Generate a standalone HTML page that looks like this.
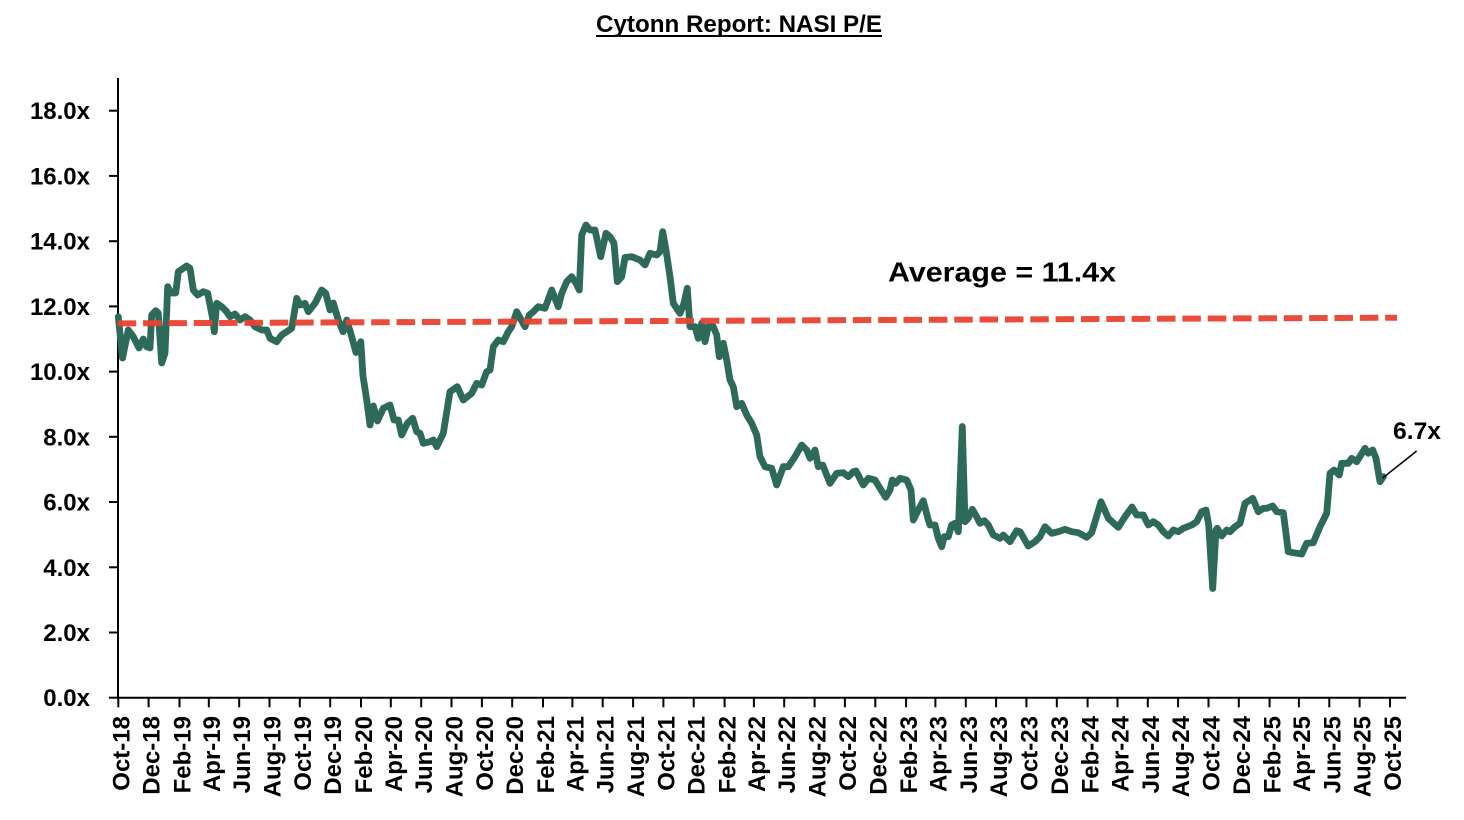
<!DOCTYPE html>
<html>
<head>
<meta charset="utf-8">
<style>
  html,body{margin:0;padding:0;background:#fff;}
  svg{display:block;}
  text{font-family:"Liberation Sans",Arial,sans-serif;font-weight:bold;fill:#000;}
</style>
</head>
<body>
<svg width="1464" height="820" viewBox="0 0 1464 820" xmlns="http://www.w3.org/2000/svg">
  <rect x="0" y="0" width="1464" height="820" fill="#fff"/>

  <!-- Title -->
  <text x="739" y="32" font-size="24" text-anchor="middle" textLength="286" lengthAdjust="spacingAndGlyphs">Cytonn Report: NASI P/E</text>
  <line x1="596" y1="36" x2="882" y2="36" stroke="#000" stroke-width="2"/>

  <!-- Y axis -->
  <line x1="118" y1="78" x2="118" y2="698.5" stroke="#000" stroke-width="2"/>
  <g stroke="#000" stroke-width="2">
    <line x1="109" y1="697.7" x2="118" y2="697.7"/>
    <line x1="109" y1="632.5" x2="118" y2="632.5"/>
    <line x1="109" y1="567.3" x2="118" y2="567.3"/>
    <line x1="109" y1="502.0" x2="118" y2="502.0"/>
    <line x1="109" y1="436.8" x2="118" y2="436.8"/>
    <line x1="109" y1="371.6" x2="118" y2="371.6"/>
    <line x1="109" y1="306.4" x2="118" y2="306.4"/>
    <line x1="109" y1="241.2" x2="118" y2="241.2"/>
    <line x1="109" y1="175.9" x2="118" y2="175.9"/>
    <line x1="109" y1="110.7" x2="118" y2="110.7"/>
  </g>
  <g font-size="24" text-anchor="end">
    <text x="90" y="706.2">0.0x</text>
    <text x="90" y="641.0">2.0x</text>
    <text x="90" y="575.8">4.0x</text>
    <text x="90" y="510.5">6.0x</text>
    <text x="90" y="445.3">8.0x</text>
    <text x="90" y="380.1">10.0x</text>
    <text x="90" y="314.9">12.0x</text>
    <text x="90" y="249.7">14.0x</text>
    <text x="90" y="184.4">16.0x</text>
    <text x="90" y="119.2">18.0x</text>
  </g>

  <!-- X axis -->
  <line x1="117" y1="697.7" x2="1406" y2="697.7" stroke="#000" stroke-width="2"/>
  <g stroke="#000" stroke-width="2">
    <line x1="118.3" y1="697.7" x2="118.3" y2="707.3"/>
    <line x1="148.6" y1="697.7" x2="148.6" y2="707.3"/>
    <line x1="179.5" y1="697.7" x2="179.5" y2="707.3"/>
    <line x1="208.8" y1="697.7" x2="208.8" y2="707.3"/>
    <line x1="239.2" y1="697.7" x2="239.2" y2="707.3"/>
    <line x1="269.5" y1="697.7" x2="269.5" y2="707.3"/>
    <line x1="299.8" y1="697.7" x2="299.8" y2="707.3"/>
    <line x1="330.2" y1="697.7" x2="330.2" y2="707.3"/>
    <line x1="361.0" y1="697.7" x2="361.0" y2="707.3"/>
    <line x1="390.8" y1="697.7" x2="390.8" y2="707.3"/>
    <line x1="421.2" y1="697.7" x2="421.2" y2="707.3"/>
    <line x1="451.5" y1="697.7" x2="451.5" y2="707.3"/>
    <line x1="481.9" y1="697.7" x2="481.9" y2="707.3"/>
    <line x1="512.2" y1="697.7" x2="512.2" y2="707.3"/>
    <line x1="543.0" y1="697.7" x2="543.0" y2="707.3"/>
    <line x1="572.4" y1="697.7" x2="572.4" y2="707.3"/>
    <line x1="602.7" y1="697.7" x2="602.7" y2="707.3"/>
    <line x1="633.1" y1="697.7" x2="633.1" y2="707.3"/>
    <line x1="663.4" y1="697.7" x2="663.4" y2="707.3"/>
    <line x1="693.7" y1="697.7" x2="693.7" y2="707.3"/>
    <line x1="724.6" y1="697.7" x2="724.6" y2="707.3"/>
    <line x1="753.9" y1="697.7" x2="753.9" y2="707.3"/>
    <line x1="784.2" y1="697.7" x2="784.2" y2="707.3"/>
    <line x1="814.6" y1="697.7" x2="814.6" y2="707.3"/>
    <line x1="844.9" y1="697.7" x2="844.9" y2="707.3"/>
    <line x1="875.3" y1="697.7" x2="875.3" y2="707.3"/>
    <line x1="906.1" y1="697.7" x2="906.1" y2="707.3"/>
    <line x1="935.4" y1="697.7" x2="935.4" y2="707.3"/>
    <line x1="965.8" y1="697.7" x2="965.8" y2="707.3"/>
    <line x1="996.1" y1="697.7" x2="996.1" y2="707.3"/>
    <line x1="1026.4" y1="697.7" x2="1026.4" y2="707.3"/>
    <line x1="1056.8" y1="697.7" x2="1056.8" y2="707.3"/>
    <line x1="1087.6" y1="697.7" x2="1087.6" y2="707.3"/>
    <line x1="1117.5" y1="697.7" x2="1117.5" y2="707.3"/>
    <line x1="1147.8" y1="697.7" x2="1147.8" y2="707.3"/>
    <line x1="1178.1" y1="697.7" x2="1178.1" y2="707.3"/>
    <line x1="1208.5" y1="697.7" x2="1208.5" y2="707.3"/>
    <line x1="1238.8" y1="697.7" x2="1238.8" y2="707.3"/>
    <line x1="1269.6" y1="697.7" x2="1269.6" y2="707.3"/>
    <line x1="1298.9" y1="697.7" x2="1298.9" y2="707.3"/>
    <line x1="1329.3" y1="697.7" x2="1329.3" y2="707.3"/>
    <line x1="1359.6" y1="697.7" x2="1359.6" y2="707.3"/>
    <line x1="1390.0" y1="697.7" x2="1390.0" y2="707.3"/>
  </g>
  <g font-size="24" text-anchor="end">
    <text transform="translate(129.3,716) rotate(-90)">Oct-18</text>
    <text transform="translate(159.6,716) rotate(-90)">Dec-18</text>
    <text transform="translate(190.5,716) rotate(-90)">Feb-19</text>
    <text transform="translate(219.8,716) rotate(-90)">Apr-19</text>
    <text transform="translate(250.2,716) rotate(-90)">Jun-19</text>
    <text transform="translate(280.5,716) rotate(-90)">Aug-19</text>
    <text transform="translate(310.8,716) rotate(-90)">Oct-19</text>
    <text transform="translate(341.2,716) rotate(-90)">Dec-19</text>
    <text transform="translate(372.0,716) rotate(-90)">Feb-20</text>
    <text transform="translate(401.8,716) rotate(-90)">Apr-20</text>
    <text transform="translate(432.2,716) rotate(-90)">Jun-20</text>
    <text transform="translate(462.5,716) rotate(-90)">Aug-20</text>
    <text transform="translate(492.9,716) rotate(-90)">Oct-20</text>
    <text transform="translate(523.2,716) rotate(-90)">Dec-20</text>
    <text transform="translate(554.0,716) rotate(-90)">Feb-21</text>
    <text transform="translate(583.4,716) rotate(-90)">Apr-21</text>
    <text transform="translate(613.7,716) rotate(-90)">Jun-21</text>
    <text transform="translate(644.1,716) rotate(-90)">Aug-21</text>
    <text transform="translate(674.4,716) rotate(-90)">Oct-21</text>
    <text transform="translate(704.7,716) rotate(-90)">Dec-21</text>
    <text transform="translate(735.6,716) rotate(-90)">Feb-22</text>
    <text transform="translate(764.9,716) rotate(-90)">Apr-22</text>
    <text transform="translate(795.2,716) rotate(-90)">Jun-22</text>
    <text transform="translate(825.6,716) rotate(-90)">Aug-22</text>
    <text transform="translate(855.9,716) rotate(-90)">Oct-22</text>
    <text transform="translate(886.3,716) rotate(-90)">Dec-22</text>
    <text transform="translate(917.1,716) rotate(-90)">Feb-23</text>
    <text transform="translate(946.4,716) rotate(-90)">Apr-23</text>
    <text transform="translate(976.8,716) rotate(-90)">Jun-23</text>
    <text transform="translate(1007.1,716) rotate(-90)">Aug-23</text>
    <text transform="translate(1037.4,716) rotate(-90)">Oct-23</text>
    <text transform="translate(1067.8,716) rotate(-90)">Dec-23</text>
    <text transform="translate(1098.6,716) rotate(-90)">Feb-24</text>
    <text transform="translate(1128.5,716) rotate(-90)">Apr-24</text>
    <text transform="translate(1158.8,716) rotate(-90)">Jun-24</text>
    <text transform="translate(1189.1,716) rotate(-90)">Aug-24</text>
    <text transform="translate(1219.5,716) rotate(-90)">Oct-24</text>
    <text transform="translate(1249.8,716) rotate(-90)">Dec-24</text>
    <text transform="translate(1280.6,716) rotate(-90)">Feb-25</text>
    <text transform="translate(1309.9,716) rotate(-90)">Apr-25</text>
    <text transform="translate(1340.3,716) rotate(-90)">Jun-25</text>
    <text transform="translate(1370.6,716) rotate(-90)">Aug-25</text>
    <text transform="translate(1401.0,716) rotate(-90)">Oct-25</text>
  </g>

  <!-- Series -->
  <polyline fill="none" stroke="#2D6A5A" stroke-width="6.8" stroke-linejoin="round" stroke-linecap="round" points="
118.3,316.7 122.5,358 128.3,330 133.3,336.7 139,348 143.3,339 146.7,346.7 150,348 151.7,315 155.7,310.7 158.3,313
161.7,363 165,353 167.7,286.7 171,293 175.7,293 178.3,271.7 183.3,268.3 186.7,266 190,268.3 193.3,290 197.7,295
203.3,291.7 207.7,293.3 212.3,316.7 214.3,331.7 216.7,303.3 221.7,306.7 226.7,311.7 230,316.7 235,314 240,320
245,316.7 250,320 255,326.7 261.7,330 266.7,330 270,338.3 276.7,341.7 281.7,335 286.7,331.7 291.7,328.3
296.7,298.3 300,305 305,303.3 308.3,311.7 315,303.3 321.7,290 325.7,293.3 330,310 333.3,303 338.3,320 343,331.7
346.7,320 351.7,336.7 356,352.5 360.8,341.7 363,376 366.7,400 370,425 373.3,406 377.5,421 383.3,408.3 390,405
394,420 398.3,420 401.7,435 407.3,423.3 412.7,418.3 416.7,431.7 420,433.3 423.3,443.3 430,441.7 433.3,440
436.7,446.7 443.3,433.3 450,391.7 455,388.3 457.3,386.7 463.3,400 471.7,393.3 476.7,383.3 481.7,385 486.7,371.7
490,370 493.3,346.7 498.3,340 503.3,341.7 508.3,331.7 511.7,326.7 516.7,311.7 525,326.7 529.3,315 533.3,311.7
538.3,306.7 545,308.3 551.7,290 558.3,306.7 561.7,293.3 566.7,281.7 571.7,276.7 576,283.3 579.3,290 581.7,235
586,225 590,230 595,230 600.7,256.7 606,233.3 610,236.7 614,243.3 617.3,281.7 621.7,276.7 625,257.5 631.7,256.7
640,260 645,265 650,253.3 656.7,255 660,251.7 662.7,231.7 666,250 670,276.7 673.3,303.3 680,313.3 684,303.3
687.3,288.3 690,326.7 695,326.7 698.3,338.3 701.7,323.3 705,341.7 708.3,326.7 713.3,326.7 716.7,335 719.3,356.7
723.3,343.3 726.7,360 730,380 733.3,386.7 736.7,406.7 741.7,403.3 746.7,415 751.7,423.3 756.7,435 760,456.7
765,466.7 771.7,468.3 776.7,485 783.3,466.7 788.3,466.7 795,456.7 801.7,445 806.7,450 810,458.3 815,450
818.3,466.7 822.7,465 830,483.3 836.7,473.3 843.3,472.7 848.3,476.7 853.3,471.7 856,471 863.3,485 868.3,478.3
875,480 880,488.3 885.7,497.3 890,490 892.3,480 895.7,483.3 900,478.3 906.7,480 911,490 913.3,520 918.3,510
923.3,500.7 928.3,520 930,525 935,525 938.3,538.3 941.7,546.7 944.3,536.7 948.3,536.7 951.7,525 955,523.3
958.3,531.7 962.3,426.5 965,521.7 968.3,518.3 972.3,509.3 975.7,515 980,523.3 984.3,520.7 988.3,525 993.3,535
1000,538.3 1003.3,535 1010,541.7 1016.7,530.7 1020,531.7 1028.3,546 1035,541.7 1040,536.7 1045,526.7
1051.7,533.3 1058.3,531.7 1065,529.3 1071.7,531.7 1078.3,532.7 1086.7,537.3 1091.7,532.7 1101,501.7 1108.3,518.3
1118.3,527.3 1125,516.7 1132,507 1136.7,515 1143.3,515 1148.3,525 1153.3,521.7 1158.3,525 1163.3,531.7
1168.3,536 1173.3,530 1178.3,531.7 1183.3,528.3 1191.7,525 1196.7,521.7 1201.7,511.7 1206,510 1208.7,525
1212.7,588.5 1216,530 1217.3,528.3 1221.7,536 1226.7,530 1230,531.7 1235,526.7 1240,523.3 1245,503.3 1252.7,498.3
1258.3,511.7 1263.3,508.3 1266.7,508.3 1272.7,506 1276.7,511.7 1283.3,512.7 1288.3,551.7 1293.3,552.7 1301.7,554
1306.7,543.3 1313.3,542.7 1320,526.7 1326.7,513.3 1330,473.3 1334,470 1339.3,475 1341.7,463.3 1348.3,463.3
1351.7,458.3 1356.7,461.7 1365,448.3 1368.3,453.3 1372.7,450 1376,458.3 1380,481.7 1383.3,476.7"/>

  <!-- Average dashed line -->
  <line x1="117.7" y1="323.4" x2="1397" y2="317.7" stroke="#E9412F" stroke-width="6" stroke-dasharray="18.5 6.85" stroke-opacity="0.95"/>

  <!-- Annotations -->
  <text x="888" y="281.7" font-size="28" textLength="228" lengthAdjust="spacingAndGlyphs">Average = 11.4x</text>
  <text x="1393" y="439" font-size="24" textLength="48" lengthAdjust="spacingAndGlyphs">6.7x</text>
  <line x1="1416.7" y1="451" x2="1382.7" y2="478" stroke="#000" stroke-width="1.5"/>
</svg>
</body>
</html>
